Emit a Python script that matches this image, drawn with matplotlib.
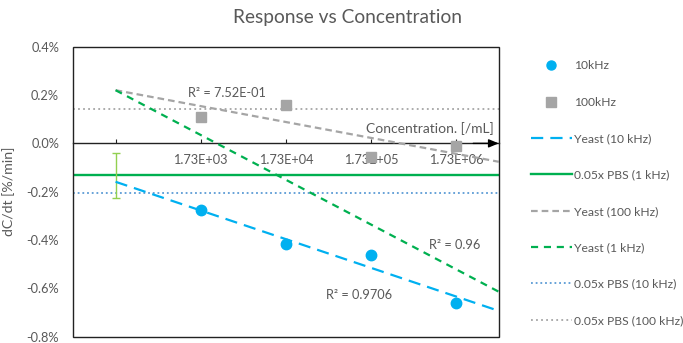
import matplotlib
matplotlib.use("Agg")
import matplotlib.pyplot as plt
from matplotlib.lines import Line2D
from matplotlib.patches import Rectangle
import numpy as np

plt.rcParams['font.family'] = ['Lato', 'DejaVu Sans']

# Concentration categories (first slot holds the PBS control)
categories = ["", "1.73E+03", "1.73E+04", "1.73E+05", "1.73E+06"]

# Measured slopes dC/dt in % per minute
resp_10khz = [-0.276, -0.417, -0.461, -0.662]
resp_100khz = [0.108, 0.157, -0.055, -0.010]

# PBS control levels
pbs_1khz = -0.131
pbs_1khz_err = 0.093
pbs_10khz = -0.207
pbs_100khz = 0.143

# Linear trendlines: (value at first category, slope per category)
trend_yeast_10khz = (-0.159, -0.1187)
trend_yeast_100khz = (0.220, -0.0658)
trend_yeast_1khz = (0.220, -0.1853)

r2_labels = ["R\u00b2 = 7.52E-01", "R\u00b2 = 0.96", "R\u00b2 = 0.9706"]

BLUE = "#00B0F0"
GREEN = "#00B050"
GRAY = "#A5A5A5"
DOTBLUE = "#5B9BD5"
LIGHTGREEN = "#92D050"
TXT = "#595959"

fig = plt.figure(figsize=(6.83, 3.43), dpi=100)
ax = fig.add_axes([0.1069, 0.0184, 0.6233, 0.8454])

x_all = np.arange(len(categories))
x_data = x_all[1:]
x_trend = np.array([0.0, 4.5])

def trend(p):
    return p[0] + p[1] * x_trend

# PBS reference levels
ax.axhline(pbs_100khz, color=GRAY, lw=1.3, ls=(0, (1, 1.8)), zorder=2)
ax.axhline(pbs_10khz, color=DOTBLUE, lw=1.3, ls=(0, (1, 1.6)), zorder=2)
ax.axhline(pbs_1khz, color=GREEN, lw=1.7, zorder=2)
ax.errorbar([x_all[0]], [pbs_1khz], yerr=[pbs_1khz_err], fmt='none',
            ecolor=LIGHTGREEN, elinewidth=1, capsize=3, capthick=1, zorder=3)

# Trendlines
ax.plot(x_trend, trend(trend_yeast_100khz), color=GRAY, lw=1.6,
        ls=(0, (3, 1.8)), zorder=3)
ax.plot(x_trend, trend(trend_yeast_1khz), color=GREEN, lw=1.6,
        ls=(0, (3.2, 2.6)), zorder=3)
ax.plot(x_trend, trend(trend_yeast_10khz), color=BLUE, lw=1.6,
        ls=(0, (5.5, 3.2)), zorder=3)

# Data points
ax.plot(x_data, resp_100khz, ls='none', marker='s', ms=7.5, color=GRAY,
        mec=GRAY, zorder=4)
ax.plot(x_data, resp_10khz, ls='none', marker='o', ms=7.5, color=BLUE,
        mec=BLUE, zorder=4)

ax.set_xlim(-0.5, 4.5)
ax.set_ylim(-0.8, 0.4)

# Category axis crossing at zero
for s in ['top', 'right', 'left']:
    ax.spines[s].set_visible(False)
ax.spines['bottom'].set_position(('data', 0))
ax.spines['bottom'].set_color('#222222')
ax.spines['bottom'].set_linewidth(1)
ax.add_patch(Rectangle((0, 0), 1, 1, transform=ax.transAxes, fill=False,
                       edgecolor='#222222', lw=1, clip_on=False, zorder=5))
ax.annotate("", xy=(4.5, 0), xytext=(4.2, 0),
            arrowprops=dict(arrowstyle='-|>,head_length=0.6,head_width=0.25',
                            color='black', lw=1, shrinkA=0, shrinkB=0),
            zorder=6)

ax.set_xticks(x_all)
ax.set_xticklabels(categories)
ax.tick_params(axis='x', direction='in', length=3, width=0.8, pad=8,
               labelsize=9.2, labelcolor=TXT, color='#222222')

yt = np.round(np.arange(-0.8, 0.41, 0.2), 1) + 0.0
ax.set_yticks(yt)
ax.set_yticklabels([f"{abs(v):.1f}%" if abs(v) < 1e-9 else f"{v:.1f}%" for v in yt])
ax.tick_params(axis='y', length=0, pad=10, labelsize=9.2, labelcolor=TXT)

ax.set_ylabel("dC/dt [%/min]", fontsize=10.2, color=TXT)
ax.yaxis.set_label_coords(-0.136, 0.5)

ax.text(4.44, 0.063, "Concentration. [/mL]", ha='right', va='center',
        fontsize=10, color=TXT)

# Goodness-of-fit annotations
ax.text(0.85, 0.209, r2_labels[0], ha='left', va='center', fontsize=9.2, color=TXT)
ax.text(3.68, -0.420, r2_labels[1], ha='left', va='center', fontsize=9.2, color=TXT)
ax.text(2.47, -0.628, r2_labels[2], ha='left', va='center', fontsize=9.2, color=TXT)

fig.text(0.509, 0.950, "Response vs Concentration", ha='center', va='center',
         fontsize=13.8, color=TXT)

handles = [
    Line2D([], [], ls='none', marker='o', ms=6.5, color=BLUE),
    Line2D([], [], ls='none', marker='s', ms=6.5, color=GRAY),
    Line2D([], [], color=BLUE, lw=1.6, ls=(0, (5.5, 3.2))),
    Line2D([], [], color=GREEN, lw=1.7),
    Line2D([], [], color=GRAY, lw=1.6, ls=(0, (3, 1.8))),
    Line2D([], [], color=GREEN, lw=1.6, ls=(0, (3.2, 2.6))),
    Line2D([], [], color=DOTBLUE, lw=1.3, ls=(0, (1, 1.6))),
    Line2D([], [], color=GRAY, lw=1.3, ls=(0, (1, 1.8))),
]
labels = ["10kHz", "100kHz", "Yeast (10 kHz)", "0.05x PBS (1 kHz)",
          "Yeast (100 kHz)", "Yeast (1 kHz)", "0.05x PBS (10 kHz)",
          "0.05x PBS (100 kHz)"]
leg = fig.legend(handles, labels, loc='upper left',
                 bbox_to_anchor=(0.7775, 0.824), frameon=False, fontsize=8.7,
                 handlelength=3.35, handletextpad=0.2, labelspacing=2.10,
                 borderaxespad=0, borderpad=0)
for t in leg.get_texts():
    t.set_color(TXT)

fig.savefig("out.png", dpi=100)
